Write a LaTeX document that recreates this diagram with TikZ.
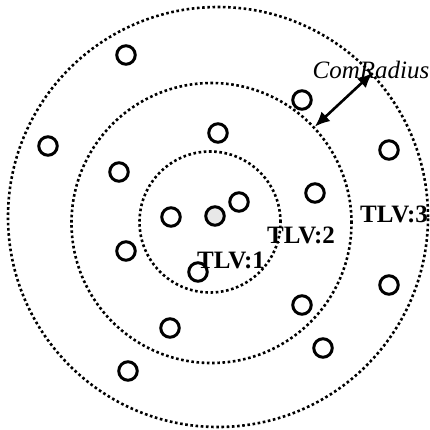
\documentclass[tikz,border=0pt]{standalone}
\usepackage{fontspec}
\setmainfont{Liberation Serif}
\usetikzlibrary{arrows.meta}

\begin{document}
\begin{tikzpicture}[x=1pt,y=-1pt,
  ring/.style={circle,draw,line width=2.6pt,dash pattern=on 2.6pt off 2.6pt,
               minimum size=#1,inner sep=0pt},
  sensor/.style={circle,draw,line width=3pt,minimum size=18.5pt,inner sep=0pt},
  sink/.style={sensor,fill=gray!18},
  lvl/.style={font=\fontsize{25}{29}\selectfont\bfseries,inner sep=0pt,anchor=base},
  arr/.style={{Latex[length=15pt,width=13pt]}-{Latex[length=15pt,width=13pt]},line width=2.6pt}
]
\useasboundingbox (0,0) rectangle (430,429);

% levels
\node[ring=141pt] (lvl1) at (210,222) {};
\node[ring=280pt] (lvl2) at (211.5,223) {};
\node[ring=420pt] (lvl3) at (218,217) {};

% nodes
\node[sink] (s0) at (215,216) {};
\node[sensor] (n1) at (126,55) {};
\node[sensor] (n2) at (48,146) {};
\node[sensor] (n3) at (218,133) {};
\node[sensor] (n4) at (119,172) {};
\node[sensor] (n5) at (302,100) {};
\node[sensor] (n6) at (389,150) {};
\node[sensor] (n7) at (315,193) {};
\node[sensor] (n8) at (171,217) {};
\node[sensor] (n9) at (239,202) {};
\node[sensor] (n10) at (126,251) {};
\node[sensor] (n11) at (198,272) {};
\node[sensor] (n12) at (389,285) {};
\node[sensor] (n13) at (302,305) {};
\node[sensor] (n14) at (170,328) {};
\node[sensor] (n15) at (323,348) {};
\node[sensor] (n16) at (128,371) {};

% labels
\node[lvl] (t1) at (231,268) {TLV:1};
\node[lvl] (t2) at (301,243) {TLV:2};
\node[lvl] (t3) at (394,222) {TLV:3};
\node[lvl,font=\fontsize{25}{29}\selectfont\itshape] (cr) at (371,78) {ComRadius};

\draw[arr] (lvl2.43) -- (lvl3.43);
\end{tikzpicture}
\end{document}
